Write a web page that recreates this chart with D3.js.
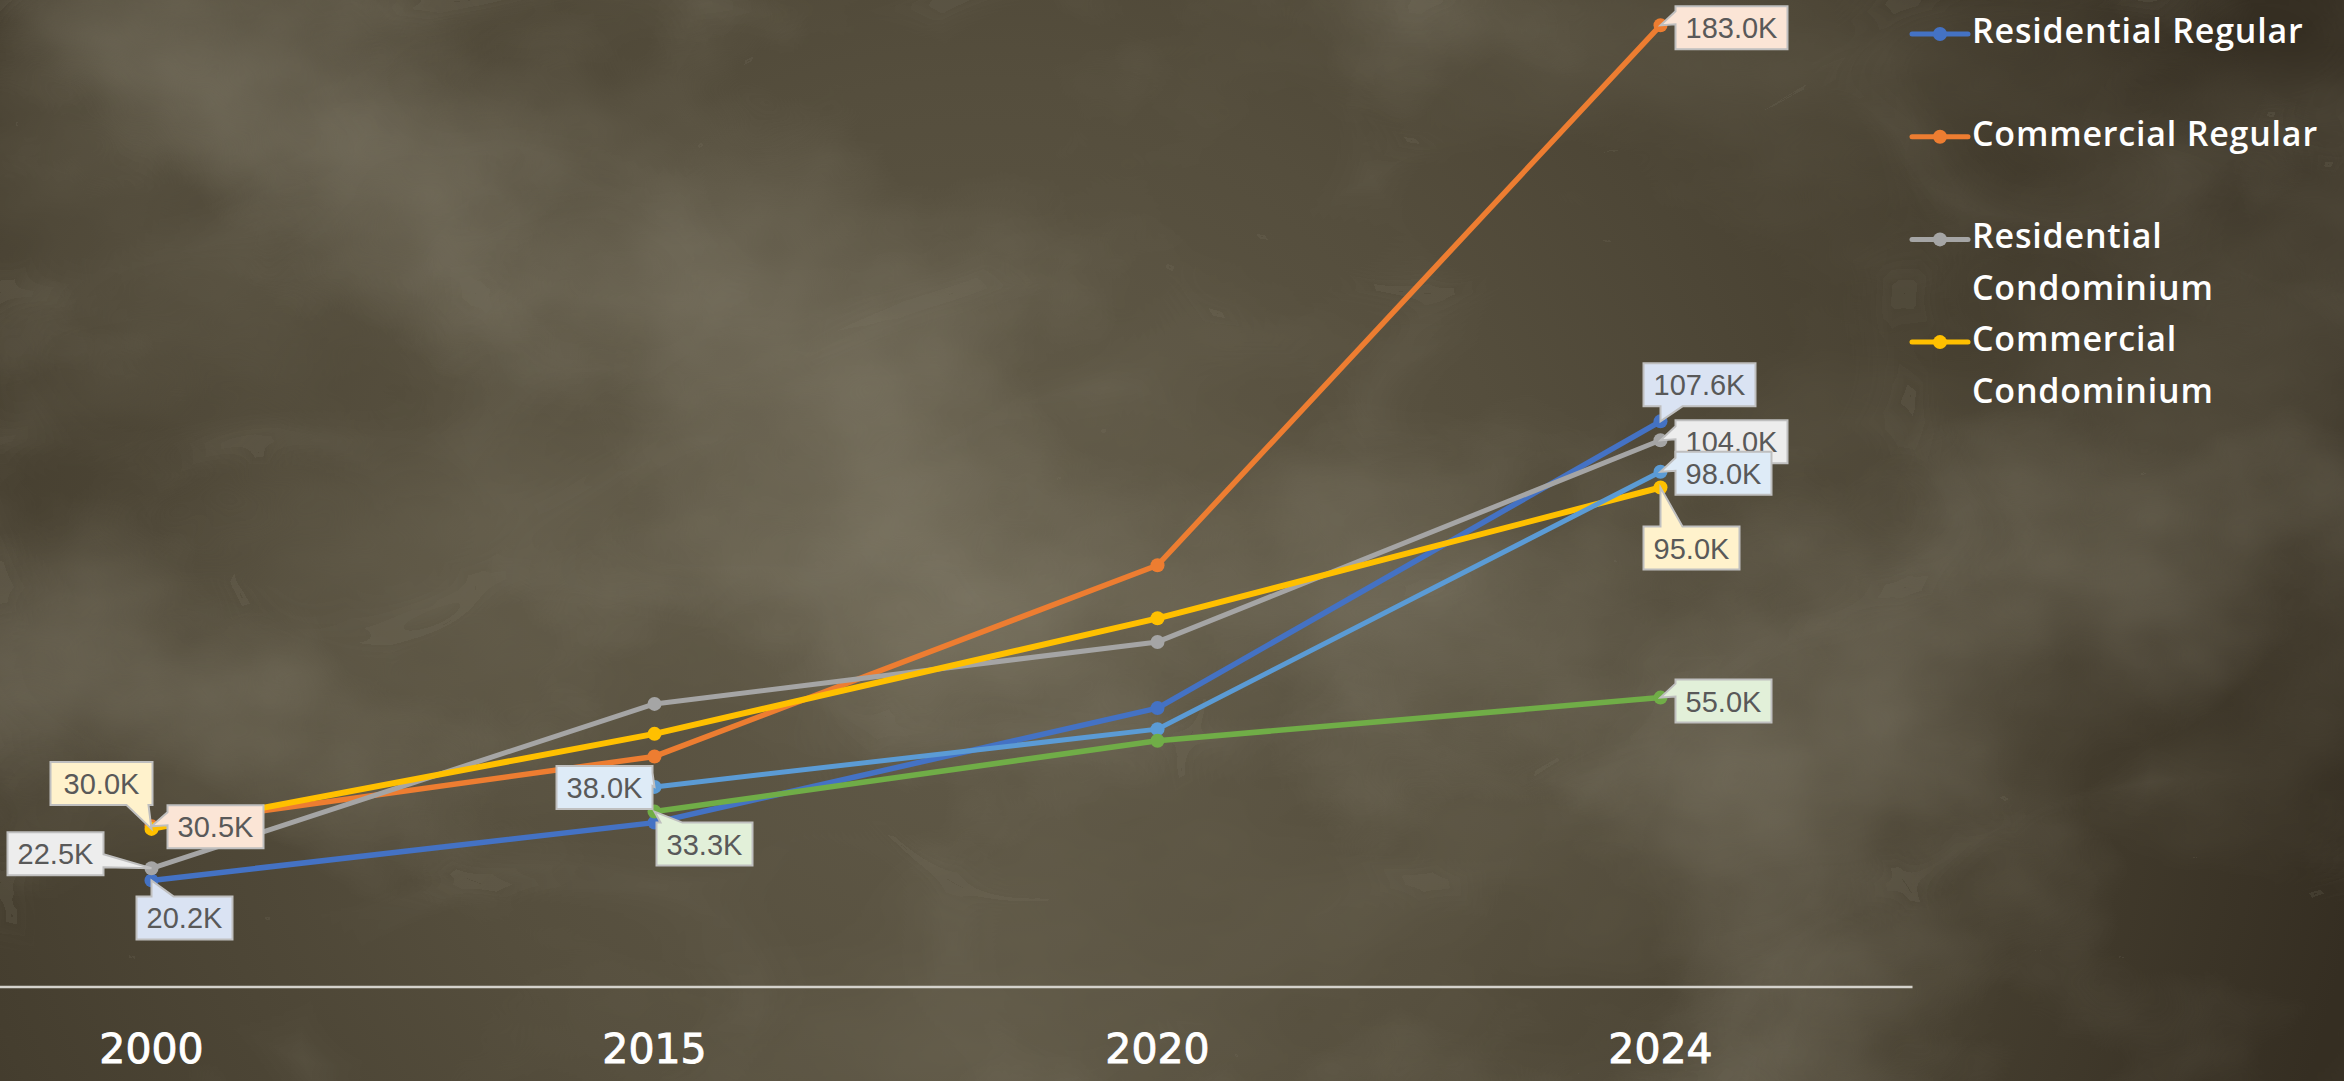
<!DOCTYPE html>
<html>
<head>
<meta charset="utf-8">
<script src="https://cdn.jsdelivr.net/npm/d3@7"></script>
<style>
  html, body { margin: 0; padding: 0; background: #4a4334; overflow: hidden; }
  svg { display: block; }
</style>
</head>
<body>
<div id="chart"></div>
<script>
// ---- data (values in thousands) ----
const years = ["2000", "2015", "2020", "2024"];
const seriesNames = ["Residential Regular", "Commercial Regular", "Residential Condominium", "Commercial Condominium", "Residential Other", "Commercial Other"];
const residentialRegular     = [20.2, 31.2, 53.0, 107.6];
const commercialRegular      = [30.5, 43.8, 80.2, 183.0];
const residentialCondominium = [22.5, 53.8, 65.6, 104.0];
const commercialCondominium  = [30.0, 48.1, 70.1, 95.0];
const residentialOther       = [null, 38.0, 49.0, 98.0];
const commercialOther        = [null, 33.3, 46.8, 55.0];
const seriesValues = [residentialRegular, commercialRegular, residentialCondominium, commercialCondominium, residentialOther, commercialOther];

// ---- styling ----
const W = 2344, H = 1081;
const colors     = ["#4472C4", "#ED7D31", "#A5A5A5", "#FFC000", "#5B9BD5", "#70AD47"];
const labelFills = ["#DAE3F3", "#FBE5D6", "#EDEDED", "#FFF2CC", "#DEEBF7", "#E2F0D9"];
const lineWidths = [5.5, 5.5, 5, 6, 5, 5.5];

// callout placement: series index, year index, box offset from the point, side the pointer leaves from
const callouts = [
  { s: 0, i: 0, dx: -15,  dy: 16,  side: "top" },
  { s: 1, i: 0, dx: 16,   dy: -21, side: "left" },
  { s: 2, i: 0, dx: -144, dy: -36, side: "right" },
  { s: 3, i: 0, dx: -101, dy: -67, side: "bottom", w: 102 },
  { s: 4, i: 1, dx: -98,  dy: -21, side: "right" },
  { s: 5, i: 1, dx: 2,    dy: 11,  side: "top" },
  { s: 0, i: 3, dx: -17,  dy: -58, side: "bottom" },
  { s: 1, i: 3, dx: 15,   dy: -19, side: "left" },
  { s: 2, i: 3, dx: 15,   dy: -20, side: "left" },
  { s: 3, i: 3, dx: -17,  dy: 39,  side: "top" },
  { s: 4, i: 3, dx: 15,   dy: -20, side: "left" },
  { s: 5, i: 3, dx: 15,   dy: -18, side: "left" }
];

const svg = d3.select("#chart").append("svg")
  .attr("width", W).attr("height", H)
  .attr("viewBox", `0 0 ${W} ${H}`);

// ---- background: dark olive marble ----
const defs = svg.append("defs");
const glow = defs.append("radialGradient").attr("id", "glow")
  .attr("gradientUnits", "userSpaceOnUse")
  .attr("cx", 980).attr("cy", 640).attr("r", 1400);
glow.append("stop").attr("offset", 0).attr("stop-color", "#615a48");
glow.append("stop").attr("offset", 0.4).attr("stop-color", "#554e3d");
glow.append("stop").attr("offset", 0.75).attr("stop-color", "#453e2f");
glow.append("stop").attr("offset", 1).attr("stop-color", "#352e22");

function noiseLayer(id, type, freq, octaves, seed, rgb, aScale, aOffset) {
  const f = defs.append("filter").attr("id", id)
    .attr("filterUnits", "userSpaceOnUse")
    .attr("x", 0).attr("y", 0).attr("width", W).attr("height", H);
  f.append("feTurbulence").attr("type", type)
    .attr("baseFrequency", freq).attr("numOctaves", octaves).attr("seed", seed).attr("result", "n");
  f.append("feColorMatrix").attr("in", "n").attr("type", "matrix")
    .attr("values", `0 0 0 0 ${rgb[0]}  0 0 0 0 ${rgb[1]}  0 0 0 0 ${rgb[2]}  ${aScale} 0 0 0 ${aOffset}`);
}
// broad dark and light swirls
noiseLayer("darkSwirl", "fractalNoise", "0.0016 0.0027", 5, 11, [0.17, 0.15, 0.10], 1.0, -0.40);
noiseLayer("lightSwirl", "fractalNoise", "0.0019 0.0024", 5, 37, [0.42, 0.39, 0.30], 0.8, -0.40);

// fine dark veins
const veins = defs.append("filter").attr("id", "veins")
  .attr("filterUnits", "userSpaceOnUse")
  .attr("x", 0).attr("y", 0).attr("width", W).attr("height", H);
veins.append("feTurbulence").attr("type", "turbulence")
  .attr("baseFrequency", "0.0021 0.0034").attr("numOctaves", 2).attr("seed", 4).attr("result", "t");
veins.append("feComponentTransfer").attr("in", "t").attr("result", "v")
  .append("feFuncR").attr("type", "table").attr("tableValues", "1 0.3 0 0 0 0 0 0 0 0 0 0");
veins.append("feColorMatrix").attr("in", "v").attr("type", "matrix")
  .attr("values", "0 0 0 0 0.20  0 0 0 0 0.18  0 0 0 0 0.13  0.18 0 0 0 0");

const bg = svg.append("g");
bg.append("rect").attr("width", W).attr("height", H).attr("fill", "url(#glow)");
bg.append("rect").attr("width", W).attr("height", H).attr("filter", "url(#darkSwirl)");
bg.append("rect").attr("width", W).attr("height", H).attr("filter", "url(#lightSwirl)");
bg.append("rect").attr("width", W).attr("height", H).attr("filter", "url(#veins)");

// ---- scales ----
const x = d3.scaleBand().domain(years).range([-100, 1912]).paddingInner(0).paddingOuter(0);
const xc = d => x(d) + x.bandwidth() / 2;
const y = d3.scaleLinear().domain([0, 200]).range([986.5, -64]);

// ---- category axis ----
const xAxis = d3.axisBottom(x).tickSize(0).tickPadding(0);
const axisG = svg.append("g").attr("transform", `translate(0, ${y(0)})`).call(xAxis);
axisG.select(".domain").attr("stroke", "#d4d2cc").attr("stroke-width", 2.5);
axisG.selectAll(".tick text")
  .attr("y", 76).attr("dy", 0)
  .attr("fill", "#ffffff")
  .attr("stroke", "#ffffff").attr("stroke-width", 0.9)
  .attr("font-family", "'DejaVu Sans', sans-serif")
  .attr("font-size", 41);

// ---- lines + markers ----
const line = d3.line()
  .defined(d => d.v != null)
  .x(d => xc(d.year))
  .y(d => y(d.v));

const plot = svg.append("g");
seriesValues.forEach((vals, s) => {
  const pts = years.map((yr, i) => ({ year: yr, v: vals[i] }));
  const g = plot.append("g");
  g.append("path").datum(pts)
    .attr("d", line)
    .attr("fill", "none")
    .attr("stroke", colors[s])
    .attr("stroke-width", lineWidths[s])
    .attr("stroke-linejoin", "round")
    .attr("stroke-linecap", "round");
  g.selectAll("circle").data(pts.filter(d => d.v != null)).join("circle")
    .attr("cx", d => xc(d.year))
    .attr("cy", d => y(d.v))
    .attr("r", 7)
    .attr("fill", colors[s]);
});

// ---- callout data labels ----
const fmt = v => v.toFixed(1) + "K";
const measure = svg.append("text")
  .attr("font-family", "'Liberation Sans', Arial, sans-serif")
  .attr("font-size", 29).attr("visibility", "hidden");

function calloutPath(x0, y0, x1, y1, px, py, side) {
  const clamp = (v, lo, hi) => Math.max(lo, Math.min(hi, v));
  const wh = 22, wv = 13;
  let p = `M${x0},${y0}`;
  if (side === "top") {
    const a = clamp(px, x0 + 4, x1 - 4 - wh);
    p += `L${a},${y0}L${px},${py}L${a + wh},${y0}`;
  }
  p += `L${x1},${y0}`;
  if (side === "right") {
    const a = clamp(py - wv - 1, y0 + 2, y1 - 2 - wv);
    p += `L${x1},${a}L${px},${py}L${x1},${a + wv}`;
  }
  p += `L${x1},${y1}`;
  if (side === "bottom") {
    const a = clamp(px, x0 + 4, x1 - 4 - wh);
    p += `L${a + wh},${y1}L${px},${py}L${a},${y1}`;
  }
  p += `L${x0},${y1}`;
  if (side === "left") {
    const a = clamp(py - wv - 1, y0 + 2, y1 - 2 - wv);
    p += `L${x0},${a + wv}L${px},${py}L${x0},${a}`;
  }
  return p + "Z";
}

const labelG = svg.append("g");
callouts.forEach(c => {
  const v = seriesValues[c.s][c.i];
  const px = xc(years[c.i]), py = y(v);
  const txt = fmt(v);
  measure.text(txt);
  const tw = measure.node().getComputedTextLength();
  const bw = c.w || Math.round(tw + 20), bh = 43;
  const x0 = px + c.dx, y0 = py + c.dy;
  labelG.append("path")
    .attr("d", calloutPath(x0, y0, x0 + bw, y0 + bh, px, py, c.side))
    .attr("fill", labelFills[c.s])
    .attr("stroke", "#BFBFBF")
    .attr("stroke-width", 2)
    .attr("stroke-linejoin", "miter");
  labelG.append("text")
    .attr("x", x0 + bw / 2).attr("y", y0 + bh / 2 + 10.5)
    .attr("text-anchor", "middle")
    .attr("font-family", "'Liberation Sans', Arial, sans-serif")
    .attr("font-size", 29)
    .attr("fill", "#595959")
    .text(txt);
});
measure.remove();

// ---- legend (room for four entries) ----
const legendLines = [["Residential Regular"], ["Commercial Regular"], ["Residential", "Condominium"], ["Commercial", "Condominium"]];
const legend = svg.append("g");
legendLines.forEach((lines, k) => {
  const base = 43 + 102.7 * k;
  const g = legend.append("g");
  g.append("line")
    .attr("x1", 1912).attr("x2", 1968)
    .attr("y1", base - 9).attr("y2", base - 9)
    .attr("stroke", colors[k]).attr("stroke-width", 5).attr("stroke-linecap", "round");
  g.append("circle").attr("cx", 1940).attr("cy", base - 9).attr("r", 7).attr("fill", colors[k]);
  const t = g.append("text")
    .attr("x", 1972).attr("y", base)
    .attr("font-family", "'Open Sans', sans-serif")
    .attr("font-size", 34)
    .attr("font-weight", 600)
    .attr("letter-spacing", 0.8)
    .attr("fill", "#ffffff");
  lines.forEach((ln, j) => {
    t.append("tspan").attr("x", 1972).attr("y", base + 52 * j).text(ln);
  });
});
</script>
</body>
</html>
